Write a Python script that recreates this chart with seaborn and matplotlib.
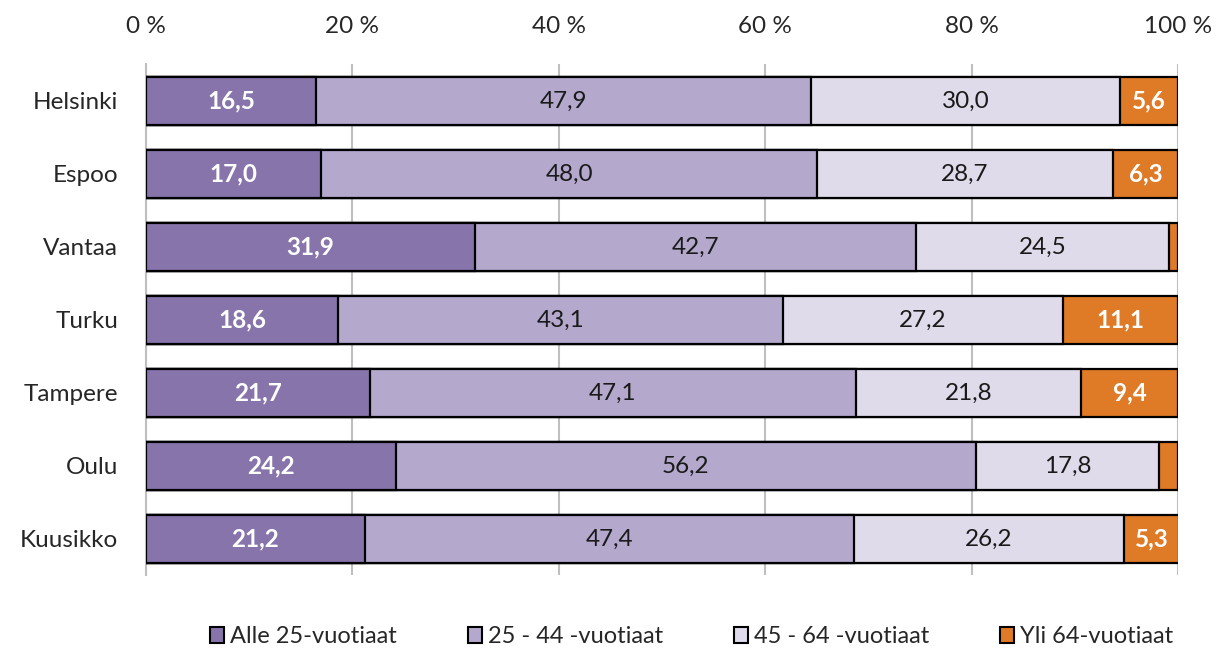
import matplotlib.pyplot as plt
import numpy as np
import pandas as pd
import seaborn as sns
from matplotlib.patches import Patch

cities = ['Helsinki', 'Espoo', 'Vantaa', 'Turku', 'Tampere', 'Oulu', 'Kuusikko']
alle25 = [16.5, 17.0, 31.9, 18.6, 21.7, 24.2, 21.2]
v25_44 = [47.9, 48.0, 42.7, 43.1, 47.1, 56.2, 47.4]
v45_64 = [30.0, 28.7, 24.5, 27.2, 21.8, 17.8, 26.2]
yli64 = [5.6, 6.3, 0.9, 11.1, 9.4, 1.8, 5.3]

groups = ['Alle 25-vuotiaat', '25 - 44 -vuotiaat', '45 - 64 -vuotiaat', 'Yli 64-vuotiaat']
colors = ['#8774AB', '#B4A8CD', '#DFDBEA', '#DF7A27']

data = pd.DataFrame({'city': cities, groups[0]: alle25, groups[1]: v25_44,
                     groups[2]: v45_64, groups[3]: yli64})

sns.set_theme(style='white')
plt.rcParams['font.family'] = ['Lato', 'DejaVu Sans']
plt.rcParams['text.color'] = '#262626'
plt.rcParams['xtick.color'] = '#262626'
plt.rcParams['ytick.color'] = '#262626'

fig = plt.figure(figsize=(12.24, 6.53), dpi=100)
ax = fig.add_axes([0.1193, 0.1187, 0.8431, 0.7826])

# stacked: draw cumulative totals from the largest down
cum = data[groups].cumsum(axis=1)
for g, c in reversed(list(zip(groups, colors))):
    sns.barplot(x=cum[g], y=data['city'], orient='h', color=c, width=0.66,
                edgecolor='black', linewidth=1.6, saturation=1, ax=ax, zorder=3)

# segment labels
for i in range(len(cities)):
    start = 0
    for j, g in enumerate(groups):
        v = data[g][i]
        if v >= 3:
            bold = j in (0, 3)
            ax.text(start + v / 2, i, f'{v:.1f}'.replace('.', ','),
                    ha='center', va='center', fontsize=17.5,
                    color='white' if bold else '#1a1a1a',
                    fontweight='bold' if bold else 'normal', zorder=5)
        start += v

ax.set_xlim(0, 100)
ax.set_ylim(6.5, -0.5)
ax.set_xticks(np.arange(0, 101, 20))
ax.set_xticklabels([f'{t} %' for t in range(0, 101, 20)])
ax.xaxis.tick_top()
ax.tick_params(axis='x', labelsize=17.5, pad=20, length=0)
ax.tick_params(axis='y', labelsize=17.5, pad=20, length=0)
ax.set_xlabel('')
ax.set_ylabel('')
ax.grid(axis='x', color='#BFBFBF', linewidth=1.5, zorder=0)
for s in ['top', 'right', 'bottom']:
    ax.spines[s].set_visible(False)
ax.spines['left'].set_color('#BFBFBF')
ax.spines['left'].set_linewidth(1.5)

handles = [Patch(facecolor=c, edgecolor='black', linewidth=1.5, label=g)
           for g, c in zip(groups, colors)]
fig.legend(handles=handles, loc='center', bbox_to_anchor=(0.565, 0.025), ncol=4,
           frameon=False, fontsize=17, handlelength=0.6, handleheight=0.7,
           handletextpad=0.25, columnspacing=3.0)

fig.savefig('out.png', dpi=100)
